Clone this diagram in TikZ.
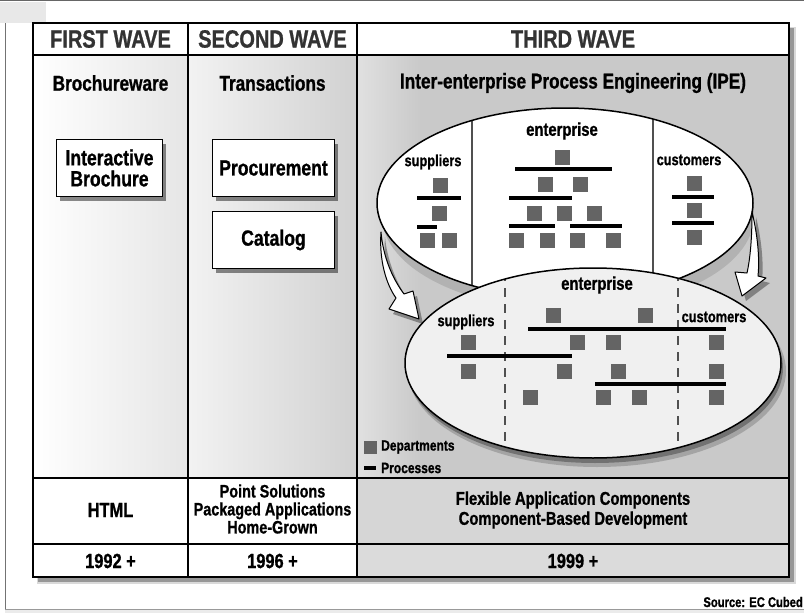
\documentclass[tikz,border=0pt]{standalone}
\usepackage{fontspec}
\setmainfont{Liberation Sans}[FakeStretch=0.8, BoldFeatures={FakeBold=0.9}]
\usetikzlibrary{shadows}
\definecolor{deptc}{HTML}{646464}
\definecolor{divc}{HTML}{505050}
\newcommand\mydep[2]{\fill[deptc] (#1,#2) +(-7.5,-7.5) rectangle +(7.5,7.5);}
\newcommand\myproc[3]{\draw[line width=4.5pt] (#1,#3) -- (#2,#3);}
\begin{document}
\begin{tikzpicture}[x=1pt,y=-1pt,
  hdr/.style={font=\fontsize{25}{28}\selectfont\bfseries, text=black!80},
  sub/.style={font=\fontsize{21.5}{24}\selectfont\bfseries},
  wbox/.style={draw=black, line width=1.8pt, fill=white, align=center,
    font=\fontsize{22}{21}\selectfont\bfseries, inner sep=0pt,
    drop shadow={shadow xshift=3pt, shadow yshift=-4pt, fill=black, opacity=.45}},
  lbl/.style={font=\fontsize{16}{18}\selectfont\bfseries},
  ent/.style={font=\fontsize{18.5}{20}\selectfont\bfseries},
  bot/.style={font=\fontsize{18}{18}\selectfont\bfseries, align=center},
  big/.style={font=\fontsize{20.5}{22}\selectfont\bfseries},
  leg/.style={font=\fontsize{15}{16}\selectfont\bfseries, anchor=west, inner sep=0pt},
  arrowshape/.style={fill=white, draw=black, line width=1pt, line join=round},
]
\useasboundingbox (0,0) rectangle (804,613);
% page frame
\fill[black!9] (0,1.5) rectangle (46,23);
\draw[black!60, line width=1pt] (0,0.6) -- (804,0.6);
\draw[black!55, line width=1pt] (5,23) -- (5,610);
\fill[black!8] (5,609) rectangle (804,613);
\draw[black!40, line width=0.8pt] (5,609) -- (804,609);
% table shadow
\fill[black, opacity=.15] (37,27) rectangle (796,584);
\fill[black, opacity=.3] (38,28) rectangle (794,582);
% column fills
\fill[white] (33,23) rectangle (789,55);
\shade[left color=white, right color=black!10] (33,55) rectangle (188,478);
\shade[left color=black!5, right color=black!18] (188,55) rectangle (357,478);
\shade[left color=black!12, right color=black!21] (357,55) rectangle (420,478);
\fill[black!21] (420,55) rectangle (789,478);
\fill[white] (33,478) rectangle (357,577);
\fill[black!16] (357,478) rectangle (789,544);
\fill[black!14] (357,544) rectangle (789,577);
% table lines
\draw[line width=1.4pt] (33,55) -- (789,55);
\draw[line width=1.4pt] (33,478) -- (789,478);
\draw[line width=1.4pt] (33,544) -- (789,544);
\draw[line width=1.4pt] (188,23) -- (188,577);
\draw[line width=1.4pt] (357,23) -- (357,577);
\draw[line width=2pt] (33,23) rectangle (789,577);
% headers
\node[hdr] (h1) at (110.5,39) {FIRST WAVE};
\node[hdr] (h2) at (272.5,39) {SECOND WAVE};
\node[hdr] (h3) at (573,39) {THIRD WAVE};
\node[sub] (s1) at (110.5,83) {Brochureware};
\node[sub] (s2) at (272.5,83) {Transactions};
\node[sub] (s3) at (573,83) {Inter-enterprise Process Engineering (IPE)};
% boxes
\node[wbox, minimum width=106pt, minimum height=57pt] (ib) at (109.5,168) {Interactive\\Brochure};
\node[wbox, minimum width=122pt, minimum height=57pt] (pr) at (273.5,168) {Procurement};
\node[wbox, minimum width=122pt, minimum height=57pt] (ca) at (273.5,240) {Catalog};
% upper ellipse shadow band
\fill[black!30] (568,216) ellipse [x radius=186pt, y radius=94pt];
% upper ellipse
\fill[white] (565,203) ellipse [x radius=188pt, y radius=95pt];
\begin{scope}
\clip (565,203) ellipse [x radius=188pt, y radius=95pt];
\draw[divc, line width=2pt] (472,100) -- (472,300);
\draw[divc, line width=2pt] (653,100) -- (653,300);
\end{scope}
\draw[line width=1.5pt] (565,203) ellipse [x radius=188pt, y radius=95pt];
\node[ent] (ue) at (562,131) {enterprise};
\node[lbl] (us) at (433,162) {suppliers};
\node[lbl] (uc) at (689,160) {customers};
\mydep{440}{185}\myproc{417}{461}{198}\mydep{439}{213}\myproc{417}{437}{227}
\mydep{427}{240}\mydep{449}{240}
\mydep{562}{157}\myproc{515}{612}{169}\mydep{545}{184}\mydep{580}{184}
\myproc{509}{572}{198}\mydep{534}{213}\mydep{564}{213}\mydep{594}{213}
\myproc{509}{555}{226}\myproc{570}{622}{226}
\mydep{516}{240}\mydep{547}{240}\mydep{577}{240}\mydep{613}{240}
\mydep{694}{183}\myproc{672}{714}{197}\mydep{694}{210}\myproc{672}{714}{223}\mydep{694}{237}
% lower ellipse
\fill[black, opacity=.18] (597,371) ellipse [x radius=189pt, y radius=96pt];
\fill[black, opacity=.3] (595,368) ellipse [x radius=188pt, y radius=95pt];
\fill[black!6] (593,363) ellipse [x radius=188pt, y radius=95pt];
\begin{scope}
\clip (593,363) ellipse [x radius=188pt, y radius=95pt];
\draw[divc, line width=2.5pt, dash pattern=on 9pt off 7pt] (505,272) -- (505,460);
\draw[divc, line width=2.5pt, dash pattern=on 9pt off 7pt] (678,272) -- (678,460);
\end{scope}
\draw[line width=1.5pt] (593,363) ellipse [x radius=188pt, y radius=95pt];
\node[ent] (le) at (597,285) {enterprise};
\node[lbl] (ls) at (466,322) {suppliers};
\node[lbl] (lc) at (714,317) {customers};
\mydep{553}{315}\mydep{645}{315}
\myproc{528}{726}{329}
\mydep{468}{342}\mydep{577}{342}\mydep{613}{342}\mydep{716}{342}
\myproc{447}{572}{356}
\mydep{468}{371}\mydep{564}{371}\mydep{618}{371}\mydep{716}{371}
\myproc{595}{726}{384}
\mydep{530}{397}\mydep{603}{397}\mydep{639}{397}\mydep{716}{397}
% arrows
\fill[black, opacity=.35] (385,237) .. controls (383,263) and (390,286) .. (400,303)
  -- (393,314) -- (423,324) -- (417,296) -- (408,299)
  .. controls (396,283) and (387,259) .. (385,237) -- cycle;
\path[arrowshape] (381,232) .. controls (379,260) and (386,284) .. (396,298)
  -- (389,309) -- (419,319) -- (413,291) -- (404,294)
  .. controls (392,278) and (383,256) .. (381,232) -- cycle;
\fill[black, opacity=.35] (756,217) .. controls (761,237) and (764,262) .. (762,281)
  -- (770,283) -- (746,301) -- (739,277) -- (751,278)
  .. controls (755,260) and (756,237) .. (756,217) -- cycle;
\path[arrowshape] (752,212) .. controls (757,232) and (760,257) .. (758,276)
  -- (766,278) -- (742,296) -- (735,272) -- (747,273)
  .. controls (751,255) and (752,232) .. (752,212) -- cycle;
% legend
\fill[deptc] (363.5,440.5) rectangle (376.5,453.5);
\node[leg] (ld) at (381,447) {Departments};
\draw[line width=4pt] (364,468) -- (376,468);
\node[leg] (lp) at (381,468) {Processes};
% bottom rows
\node[big] (t1) at (110.5,510) {HTML};
\node[bot] (t2) at (272.5,509) {Point Solutions\\Packaged Applications\\Home-Grown};
\node[bot, font=\fontsize{18.5}{20}\selectfont\bfseries] (t3) at (573,510) {Flexible Application Components\\Component-Based Development};
\node[big] (y1) at (110.5,561) {1992 +};
\node[big] (y2) at (272.5,561) {1996 +};
\node[big] (y3) at (573,561) {1999 +};
\node[font=\fontsize{14}{16}\selectfont\bfseries, anchor=east, inner sep=0pt] (src) at (803,602) {Source: EC Cubed};
\end{tikzpicture}
\end{document}
